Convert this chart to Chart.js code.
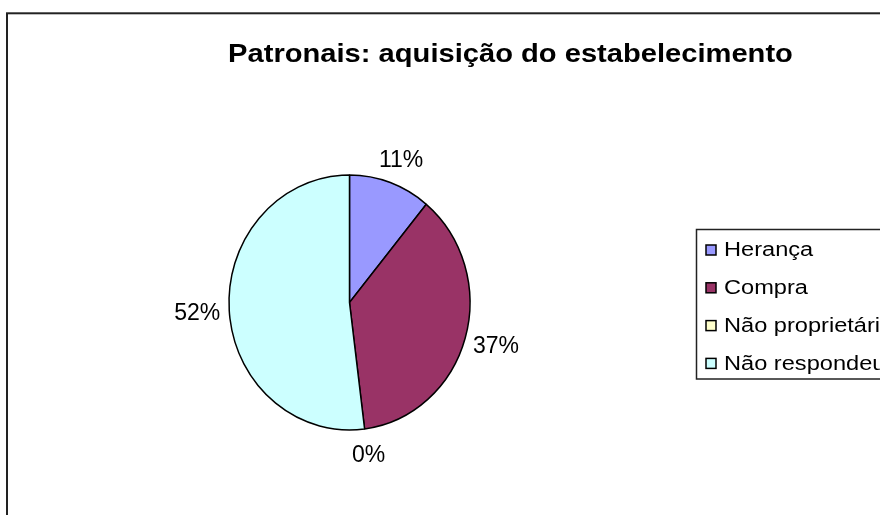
<!DOCTYPE html>
<html>
<head>
<meta charset="utf-8">
<script src="https://cdn.jsdelivr.net/npm/chart.js@4"></script>
<style>
  body { margin: 0; background: #fff; }
  #wrap { width: 880px; height: 515px; }
</style>
</head>
<body>
<div id="wrap"><canvas id="pie-chart" width="880" height="515"></canvas></div>
<script>
  const chartTitle = 'Patronais: aquisição do estabelecimento';
  const categories = ['Herança', 'Compra', 'Não proprietário', 'Não respondeu'];
  const percentages = [11, 37, 0, 52];
  const sliceColors = ['#9999FF', '#993366', '#FFFFCC', '#CCFFFF'];

  const FONT = '"Liberation Sans", Arial, sans-serif';
  const PIE_Y_STRETCH = 1.058; // the original pie is a little taller than wide

  // text in the original looks horizontally stretched, so draw it with a x-scale
  function stretchText(ctx, text, x, y, sx) {
    ctx.save();
    ctx.translate(x, y);
    ctx.scale(sx, 1);
    ctx.fillText(text, 0, 0);
    ctx.restore();
  }

  const ellipsePlugin = {
    id: 'ellipse',
    beforeDatasetsDraw(chart) {
      const arc = chart.getDatasetMeta(0).data[0];
      const ctx = chart.ctx;
      ctx.save();
      ctx.translate(arc.x, arc.y);
      ctx.scale(1, PIE_Y_STRETCH);
      ctx.translate(-arc.x, -arc.y);
    },
    afterDatasetsDraw(chart) {
      chart.ctx.restore();
    }
  };

  const framePlugin = {
    id: 'frame',
    beforeDraw(chart) {
      const ctx = chart.ctx;
      ctx.save();
      ctx.fillStyle = '#fff';
      ctx.fillRect(0, 0, chart.width, chart.height);
      ctx.strokeStyle = '#222';
      ctx.lineWidth = 2;
      ctx.strokeRect(7, 13.3, chart.width + 20, chart.height + 20);
      ctx.restore();
    },
    afterDraw(chart) {
      const ctx = chart.ctx;
      ctx.save();
      ctx.fillStyle = '#000';
      ctx.font = 'bold 26px ' + FONT;
      ctx.textAlign = 'center';
      ctx.textBaseline = 'alphabetic';
      stretchText(ctx, chartTitle, 510.5, 62, 1.12);
      ctx.restore();
    }
  };

  const sliceLabelPlugin = {
    id: 'sliceLabels',
    afterDraw(chart) {
      const ctx = chart.ctx;
      const arcs = chart.getDatasetMeta(0).data;
      ctx.save();
      ctx.fillStyle = '#000';
      ctx.font = '23px ' + FONT;
      ctx.textAlign = 'center';
      ctx.textBaseline = 'alphabetic';
      arcs.forEach((arc, i) => {
        const p = arc.getProps(['x', 'y', 'startAngle', 'endAngle', 'outerRadius'], true);
        const mid = (p.startAngle + p.endAngle) / 2;
        const d = p.outerRadius + 32;
        const x = p.x + Math.cos(mid) * d;
        const y = p.y + Math.sin(mid) * d;
        stretchText(ctx, percentages[i] + '%', x, y + 8.2, 1.0);
      });
      ctx.restore();
    }
  };

  const legendPlugin = {
    id: 'boxLegend',
    afterDraw(chart) {
      const ctx = chart.ctx;
      const left = 696.5, top = 229.5, rowStart = 250, rowStep = 37.8;
      ctx.save();
      ctx.strokeStyle = '#222';
      ctx.lineWidth = 1.5;
      ctx.strokeRect(left, top, 300, 149.5);
      ctx.font = '20px ' + FONT;
      ctx.textAlign = 'left';
      ctx.textBaseline = 'alphabetic';
      categories.forEach((name, i) => {
        const cy = rowStart + i * rowStep;
        ctx.fillStyle = sliceColors[i];
        ctx.fillRect(706, cy - 5, 10, 10);
        ctx.strokeStyle = '#000';
        ctx.lineWidth = 1.5;
        ctx.strokeRect(706, cy - 5, 10, 10);
        ctx.fillStyle = '#000';
        stretchText(ctx, name, 724, cy + 6.3, 1.18);
      });
      ctx.restore();
    }
  };

  const ctx = document.getElementById('pie-chart').getContext('2d');
  const pieChart = new Chart(ctx, {
    type: 'pie',
    data: {
      labels: categories,
      datasets: [{
        data: percentages,
        backgroundColor: sliceColors,
        borderColor: '#000',
        borderWidth: 1.5,
        hoverOffset: 0
      }]
    },
    options: {
      responsive: false,
      animation: false,
      events: [],
      radius: 120.5,
      layout: {
        padding: { left: 228, top: 181, right: 409, bottom: 91 }
      },
      plugins: {
        legend: { display: false },
        title: { display: false },
        tooltip: { enabled: false }
      }
    },
    plugins: [ellipsePlugin, framePlugin, sliceLabelPlugin, legendPlugin]
  });
</script>
</body>
</html>
